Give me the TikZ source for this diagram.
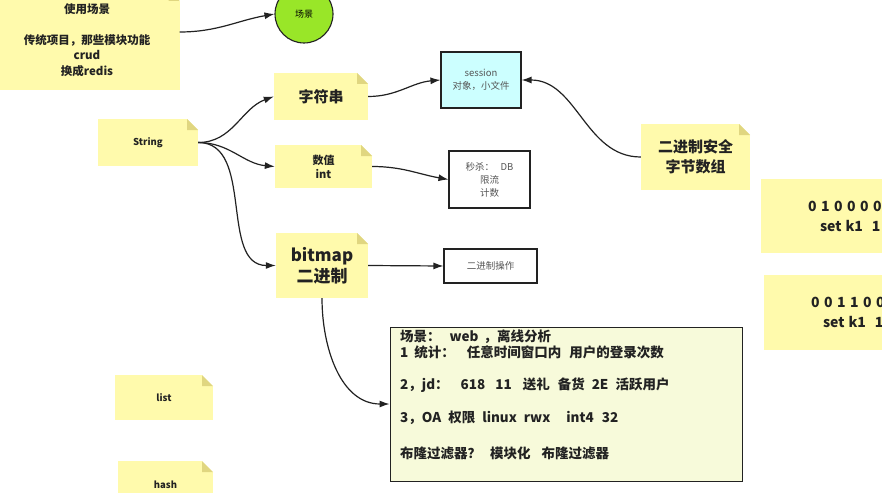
\documentclass[tikz,border=0pt]{standalone}
\usepackage{fontspec}
\setmainfont{Noto Sans CJK SC}
\usepackage{tikz}
\usetikzlibrary{shapes,arrows.meta,positioning,calc}
\definecolor{NoteYellow}{RGB}{255,250,172}
\definecolor{NoteFold}{RGB}{224,214,128}
\definecolor{SceneGreen}{RGB}{153,230,40}
\definecolor{SessionCyan}{RGB}{204,255,255}
\definecolor{BoardFill}{RGB}{247,250,218}
\definecolor{InkDark}{RGB}{34,34,34}
\definecolor{BoxText}{RGB}{85,85,85}
\newcommand{\gap}[1]{\hspace{#1pt}}

\begin{document}
\begin{tikzpicture}[x=1pt, y=-1pt]
  \tikzstyle{note} = [rectangle, fill=NoteYellow, text=InkDark, align=center, inner sep=2pt,
    path picture={
      \fill[white] ($(path picture bounding box.north east)+(-11pt,0pt)$) -- (path picture bounding box.north east) -- ++(0pt,-11pt) -- cycle;
      \fill[NoteFold] ($(path picture bounding box.north east)+(-11pt,0pt)$) -- ++(0pt,-11pt) -- ++(11pt,0pt) -- cycle;}]
  \tikzstyle{box} = [rectangle, draw=InkDark, line width=1.1pt, fill=white, text=BoxText, align=center,
    font=\fontsize{9.5}{13}\selectfont]
  \tikzstyle{bits} = [note, text width=170pt, align=left, minimum height=75pt, font=\bfseries\fontsize{14}{20}\selectfont]
  \tikzstyle{line} = [draw=InkDark, line width=1.2pt, -{Latex[length=10pt,width=7pt]}]

  \useasboundingbox (0,0) rectangle (882,492);
  \clip (0,0) rectangle (882,492);
  \fill[white] (0,0) rectangle (882,492);

  % left column
  \node [note, minimum width=185pt, minimum height=100pt, font=\bfseries\fontsize{11.5}{15.5}\selectfont] (usage) at (87,40)
    {使用场景\\[15.5pt]传统项目，那些模块功能\\crud\\换成redis};
  \node [circle, draw=InkDark, line width=1.1pt, fill=SceneGreen, minimum size=58pt, inner sep=0pt,
    font=\fontsize{9}{11}\selectfont] (scene) at (304,14) {场景};
  \node [note, minimum width=100pt, minimum height=47pt, font=\bfseries\fontsize{9.5}{12}\selectfont] (string) at (148,142.5) {String};
  \node [note, minimum width=98pt, minimum height=45pt, font=\bfseries\fontsize{9.5}{12}\selectfont] (list) at (164,397.5) {list};
  \node [note, minimum width=95pt, minimum height=48pt, font=\bfseries\fontsize{9.5}{12}\selectfont] (hash) at (165.5,485) {hash};

  % string kinds
  \node [note, minimum width=94pt, minimum height=47pt, font=\bfseries\fontsize{15}{19}\selectfont] (chars) at (321,96.5) {字符串};
  \node [note, minimum width=97pt, minimum height=43pt, font=\bfseries\fontsize{11}{14}\selectfont] (number) at (323.5,166.5) {数值\\int};
  \node [note, minimum width=92pt, minimum height=65pt, font=\bfseries\fontsize{17}{21}\selectfont] (bitmap) at (322,265.5) {bitmap\\二进制};

  % usages
  \node [box, fill=SessionCyan, minimum width=80pt, minimum height=56pt] (session) at (481,80) {session\\对象，小文件};
  \node [box, minimum width=81pt, minimum height=57pt] (seckill) at (489.5,179.5) {秒杀：\ \ \ DB\\限流\\计数};
  \node [box, minimum width=93pt, minimum height=34pt] (binop) at (490.5,266) {二进制操作};
  \node [note, minimum width=109pt, minimum height=66pt, font=\bfseries\fontsize{15}{20}\selectfont] (binsafe) at (695.5,157) {二进制安全\\字节数组};

  % bit samples (cut by the right edge)
  \node [bits, minimum height=74pt] (bitsA) at (848,216)
    {\hspace*{45pt}0\gap{4.5}1\gap{4.5}0\gap{4.5}0\gap{4.5}0\gap{4.5}0\\\hspace*{57pt}set\gap{4}k1\gap{9}1};
  \node [bits] (bitsB) at (851,312.5)
    {\hspace*{45pt}0\gap{4.5}0\gap{4.5}1\gap{4.5}1\gap{4.5}0\gap{4.5}0\\\hspace*{57pt}set\gap{4}k1\gap{9}1};

  % scenario board
  \node [rectangle, draw=InkDark, line width=0.9pt, fill=BoardFill, minimum width=352pt, minimum height=154pt] (board) at (566,404) {};
  \node [anchor=north west, align=left, inner sep=0pt, text=InkDark, font=\bfseries\fontsize{13.5}{16}\selectfont] (boardtext) at (400,330)
    {场景：\gap{9}web\gap{5}，离线分析\\
     1\gap{6}统计：\gap{12}任意时间窗口内\gap{8}用户的登录次数\\[16pt]
     2，jd：\gap{12}618\gap{10}11\gap{11}送礼\gap{8}备货\gap{7}2E\gap{7}活跃用户\\[17pt]
     3，OA\gap{7}权限\gap{7}linux\gap{7}rwx\gap{16}int4\gap{8}32\\[20pt]
     布隆过滤器？\gap{9}模块化\gap{11}布隆过滤器};

  % connectors
  \path [line] (usage.east |- 0,32) to[out=0, in=190] (scene.west);
  \path [line] (string.east) to[out=0, in=200] (chars.west);
  \path [line] (string.east) to[out=0, in=175] (number.west);
  \path [line] (string.east) to[out=0, in=180] (bitmap.west);
  \path [line] (chars.east) to[out=0, in=185] (session.west);
  \path [line] (number.east) to[out=0, in=170] (seckill.west);
  \path [line] (bitmap.east) -- (binop.west);
  \path [line] (binsafe.west) to[out=180, in=0] (session.east);
  \path [line] (bitmap.south) to[out=-90, in=180] (board.west);
\end{tikzpicture}
\end{document}
